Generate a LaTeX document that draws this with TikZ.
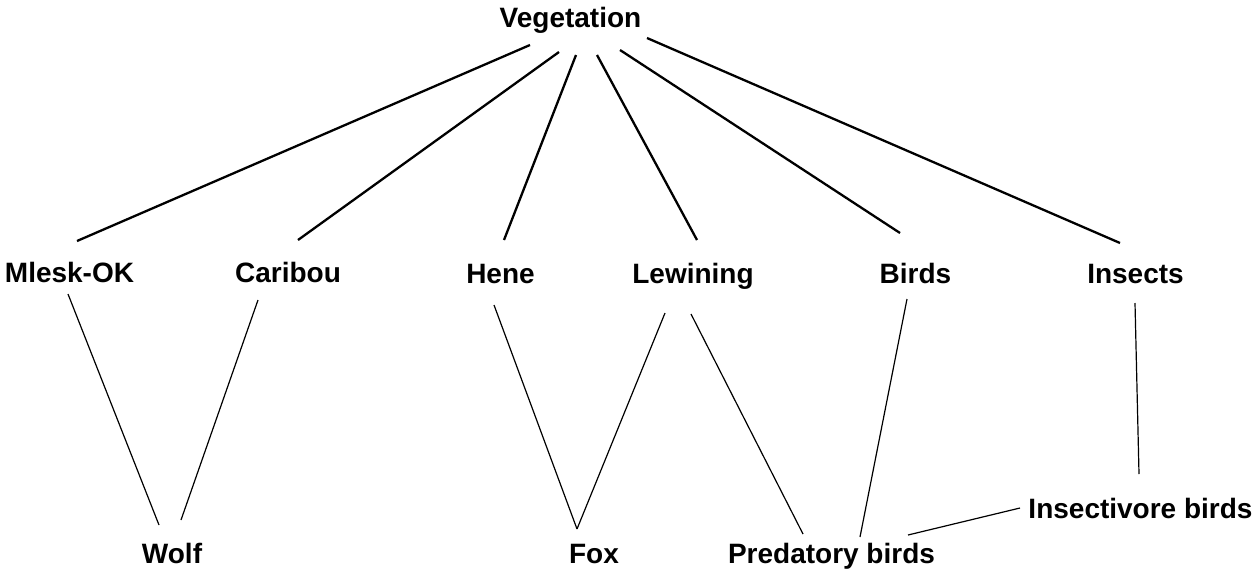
\documentclass[tikz,border=0pt]{standalone}
\usepackage{fontspec}
\setmainfont{Liberation Sans}
\usetikzlibrary{calc}
\tikzset{
  species/.style={anchor=base, inner sep=0pt, font=\fontsize{28}{34}\selectfont\bfseries},
  vegline/.style={line width=2.3pt},
  preyline/.style={line width=1.2pt}
}
\begin{document}
\begin{tikzpicture}[x=1pt,y=-1pt]
  \useasboundingbox (0,0) rectangle (1258,571);

  % food-web members (positioned by their text baseline)
  \node[species] (veg)     at (570.5,27)  {Vegetation};
  \node[species] (mlesk)   at (69.5,282)  {Mlesk-OK};
  \node[species] (caribou) at (288,282)   {Caribou};
  \node[species] (hene)    at (500.5,283) {Hene};
  \node[species] (lew)     at (693,283)   {Lewining};
  \node[species] (birds)   at (915.5,283) {Birds};
  \node[species] (insects) at (1135.5,283){Insects};
  \node[species] (wolf)    at (172,563)   {Wolf};
  \node[species] (fox)     at (594,563)   {Fox};
  \node[species] (pred)    at (831.5,563) {Predatory birds};
  \node[species] (insb)    at (1140.5,518){Insectivore birds};

  % vegetation feeds the first level
  \draw[vegline] ($(veg.base)+(-40.5,18)$) -- ($(mlesk.base)+(7.5,-41)$);
  \draw[vegline] ($(veg.base)+(-11.5,25)$) -- ($(caribou.base)+(10,-42)$);
  \draw[vegline] ($(veg.base)+(5.5,28)$)   -- ($(hene.base)+(3.5,-43)$);
  \draw[vegline] ($(veg.base)+(26.5,28)$)  -- ($(lew.base)+(4,-43)$);
  \draw[vegline] ($(veg.base)+(49.5,23)$)  -- ($(birds.base)+(-15.5,-50)$);
  \draw[vegline] ($(veg.base)+(76.5,11)$)  -- ($(insects.base)+(-15.5,-40)$);

  % predator links
  \draw[preyline] ($(mlesk.base)+(-1.5,12)$)  -- ($(wolf.base)+(-13,-38)$);
  \draw[preyline] ($(caribou.base)+(-30,18)$) -- ($(wolf.base)+(9,-43)$);
  \draw[preyline] ($(hene.base)+(-6.5,22)$)   -- ($(fox.base)+(-17,-34)$);
  \draw[preyline] ($(lew.base)+(-28,30)$)     -- ($(fox.base)+(-17,-34)$);
  \draw[preyline] ($(lew.base)+(-2,31)$)      -- ($(pred.base)+(-28.5,-29)$);
  \draw[preyline] ($(birds.base)+(-8.5,16)$)  -- ($(pred.base)+(28.5,-26)$);
  \draw[preyline] ($(insects.base)+(-0.5,20)$) -- ($(insb.base)+(-1.5,-44)$);
  \draw[preyline] ($(pred.base)+(76.5,-28)$)  -- ($(insb.base)+(-120.5,-10)$);
\end{tikzpicture}
\end{document}
